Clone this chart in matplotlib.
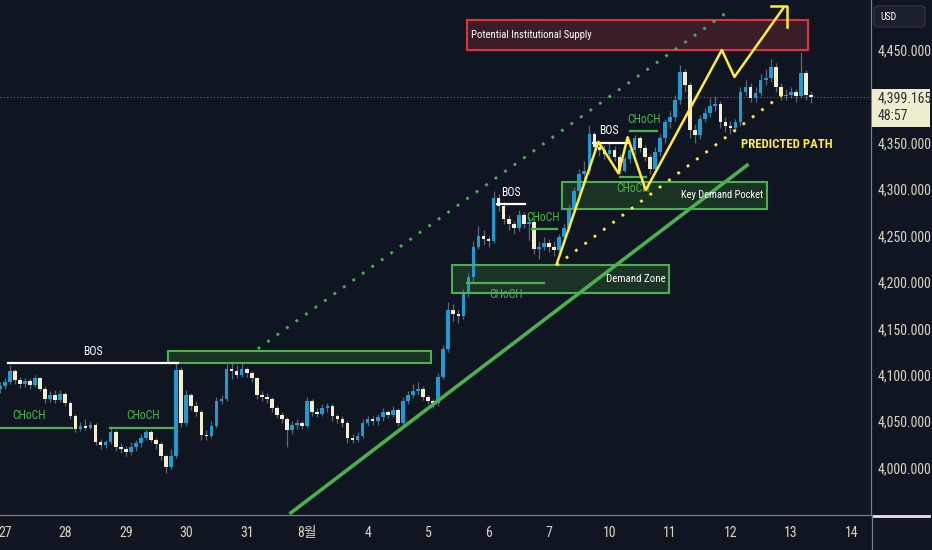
import numpy as np
import matplotlib
matplotlib.use('Agg')
import matplotlib.pyplot as plt
from matplotlib import font_manager
from matplotlib.patches import Rectangle, FancyBboxPatch
from matplotlib.lines import Line2D

# pick a narrow font if one is installed (TradingView labels are condensed)
available = {f.name for f in font_manager.fontManager.ttflist}
narrow = next((n for n in ['Roboto Condensed', 'Fira Sans Condensed',
                           'IBM Plex Sans Condensed', 'PT Sans Narrow',
                           'Archivo Narrow', 'Open Sans Condensed',
                           'Liberation Sans Narrow', 'Ubuntu Condensed',
                           'Encode Sans Condensed', 'Barlow Semi Condensed',
                           'Roboto'] if n in available), 'DejaVu Sans')
plt.rcParams['font.family'] = [narrow, 'Noto Sans CJK KR', 'DejaVu Sans']

# ---- price data (~2h candles) ----
first_open = 4085
closes = [4088, 4092, 4104, 4094, 4090, 4093, 4089, 4096, 4085, 4074,
          4078, 4073, 4079, 4070, 4056, 4042, 4045, 4043, 4046, 4028,
          4024, 4027, 4038, 4022, 4020, 4017, 4022, 4026, 4032, 4038,
          4030, 4025, 4012, 4000, 4012, 4105, 4048, 4078, 4066, 4060,
          4035, 4034, 4045, 4072, 4074, 4106, 4104, 4100, 4106, 4102,
          4096, 4078, 4076, 4074, 4064, 4057, 4052, 4040, 4046, 4048,
          4045, 4072, 4060, 4058, 4064, 4066, 4055, 4052, 4048, 4032,
          4030, 4034, 4048, 4052, 4050, 4054, 4060, 4057, 4062, 4048,
          4072, 4078, 4082, 4085, 4076, 4072, 4069, 4098, 4128, 4170,
          4165, 4163, 4188, 4205, 4238, 4250, 4246, 4244, 4290, 4282,
          4268, 4262, 4258, 4272, 4262, 4265, 4236, 4238, 4242, 4238,
          4234, 4248, 4258, 4280, 4298, 4316, 4320, 4360, 4345, 4342,
          4338, 4342, 4335, 4320, 4332, 4342, 4355, 4344, 4335, 4322,
          4340, 4355, 4372, 4378, 4396, 4426, 4412, 4364, 4358, 4376,
          4382, 4390, 4392, 4372, 4368, 4366, 4372, 4405, 4410, 4398,
          4404, 4418, 4420, 4432, 4410, 4400, 4402, 4405, 4400, 4425,
          4402, 4399]
highs = [4092, 4097, 4110, 4106, 4098, 4097, 4096, 4100, 4098, 4088,
         4082, 4084, 4083, 4081, 4072, 4058, 4049, 4052, 4050, 4048,
         4031, 4030, 4045, 4040, 4026, 4023, 4028, 4030, 4036, 4042,
         4040, 4032, 4027, 4014, 4020, 4112, 4108, 4084, 4080, 4072,
         4062, 4040, 4050, 4076, 4078, 4112, 4115, 4110, 4114, 4108,
         4104, 4098, 4082, 4080, 4076, 4066, 4060, 4054, 4050, 4052,
         4050, 4076, 4074, 4064, 4068, 4070, 4068, 4058, 4056, 4050,
         4036, 4038, 4052, 4056, 4055, 4058, 4064, 4062, 4066, 4064,
         4076, 4082, 4090, 4092, 4088, 4078, 4074, 4102, 4132, 4178,
         4176, 4170, 4192, 4210, 4244, 4260, 4256, 4250, 4298, 4295,
         4286, 4272, 4266, 4278, 4275, 4270, 4268, 4244, 4248, 4246,
         4244, 4252, 4262, 4284, 4302, 4322, 4330, 4369, 4362, 4350,
         4348, 4350, 4346, 4338, 4336, 4346, 4358, 4357, 4348, 4338,
         4345, 4360, 4376, 4384, 4402, 4434, 4430, 4415, 4370, 4380,
         4388, 4398, 4400, 4395, 4378, 4374, 4376, 4410, 4418, 4414,
         4410, 4424, 4430, 4440, 4436, 4414, 4408, 4410, 4408, 4448,
         4428, 4406]
lows = [4080, 4085, 4090, 4090, 4086, 4087, 4085, 4087, 4082, 4070,
        4071, 4070, 4071, 4066, 4052, 4038, 4039, 4040, 4041, 4024,
        4020, 4021, 4025, 4018, 4016, 4012, 4014, 4018, 4022, 4030,
        4027, 4020, 4008, 3994, 3998, 4010, 4044, 4045, 4062, 4055,
        4030, 4030, 4032, 4043, 4068, 4072, 4095, 4096, 4098, 4098,
        4092, 4074, 4072, 4070, 4060, 4053, 4048, 4022, 4036, 4042,
        4041, 4043, 4056, 4054, 4055, 4060, 4050, 4048, 4044, 4026,
        4026, 4027, 4032, 4045, 4046, 4046, 4050, 4053, 4054, 4045,
        4046, 4068, 4075, 4078, 4073, 4068, 4064, 4066, 4095, 4124,
        4158, 4156, 4160, 4184, 4200, 4235, 4240, 4238, 4242, 4276,
        4262, 4256, 4252, 4255, 4258, 4245, 4230, 4225, 4234, 4232,
        4228, 4230, 4244, 4255, 4276, 4292, 4310, 4316, 4338, 4336,
        4332, 4334, 4330, 4316, 4318, 4328, 4338, 4340, 4330, 4316,
        4318, 4336, 4350, 4366, 4374, 4392, 4405, 4355, 4350, 4354,
        4372, 4378, 4384, 4366, 4362, 4360, 4362, 4368, 4400, 4394,
        4394, 4400, 4412, 4415, 4405, 4396, 4396, 4398, 4394, 4398,
        4396, 4393]

day_labels = ['27', '28', '29', '30', '31', '8월', '4', '5', '6', '7',
              '10', '11', '12', '13', '14']
candles_per_day = 12
# 4,400 sits under the live price tag, so it is not labelled
price_ticks = [4000, 4050, 4100, 4150, 4200, 4250, 4300, 4350, 4450]
last_price = 4399.165
countdown = '48:57'

# ---- drawings (x in candle index, y in price) ----
upper_block = (33.4, 85.5, 4113, 4126)
supply_zone = (92.7, 160.3, 4450, 4482)
key_pocket = (111.5, 152.2, 4279, 4308)
demand_zone = (89.7, 132.9, 4188, 4218)

bos_levels = [(1.6, 35.4, 4113, 18.5, 4125),
              (98.6, 104.2, 4284, 101.4, 4296),
              (117.7, 124.6, 4350, 120.8, 4363)]
choch_levels = [(0, 14.3, 4043, 5.8, 4056),
                (21.9, 34.4, 4043, 28.4, 4056),
                (105.6, 110.5, 4257, 107.9, 4269),
                (92.7, 108.1, 4199, 100.4, 4187),
                (125.0, 130.4, 4363, 127.8, 4375),
                (123.0, 128.2, 4313, 125.6, 4301)]

trend_x = [57.5, 148.6]
trend_y = [3950, 4327]
channel_x = [51.2, 144.4]
channel_y = [4128, 4491]
support_x = [110.5, 155.8]
support_y = [4218, 4404]
path_x = [110.5, 118.8, 122.8, 124.6, 128.2, 143.3, 145.8, 155.6]
path_y = [4219, 4351, 4317, 4356, 4299, 4450, 4421, 4496]
arrow_x = [153.0, 156.2, 156.2]
arrow_y = [4497, 4497, 4475]

BG = '#0f1621'
BLUE = '#1f9bd3'
CREAM = '#f2eecf'
WICK = '#5f6574'
GREEN = '#4caf50'
YELLOW = '#ffeb3b'
RED = '#e0333f'
TEXT = '#d9d5bd'

fig = plt.figure(figsize=(9.32, 5.5), dpi=100, facecolor=BG)
ax = fig.add_axes([0, 1 - 515 / 550, 871 / 932, 515 / 550])
ax.set_facecolor(BG)

# candles
x = np.arange(len(closes))
opens = np.array([first_open] + closes[:-1])
c = np.array(closes)
up = c >= opens
ax.vlines(x, lows, highs, color=WICK, lw=0.9, zorder=2)
bottoms = np.minimum(opens, c)
heights = np.maximum(np.abs(c - opens), 0.8)
ax.bar(x, heights, bottom=bottoms, width=0.72, color=np.where(up, BLUE, CREAM),
       linewidth=0, zorder=3)


def zone(z, face, edge, lw=1.5):
    x0, x1, lo, hi = z
    ax.add_patch(Rectangle((x0, lo), x1 - x0, hi - lo, facecolor=face,
                           edgecolor='none', zorder=1))
    ax.add_patch(Rectangle((x0, lo), x1 - x0, hi - lo, facecolor='none',
                           edgecolor=edge, lw=lw, zorder=4))


zone(upper_block, '#1b3324', GREEN)
zone(demand_zone, '#1b3324', GREEN)
zone(key_pocket, '#1b3324', GREEN)
zone(supply_zone, '#3b1d29', RED)

ax.text(supply_zone[0] + 0.8, (supply_zone[2] + supply_zone[3]) / 2,
        'Potential Institutional Supply', color='white', fontsize=7.7,
        va='center', ha='left', zorder=6)
ax.text(key_pocket[1] - 0.8, (key_pocket[2] + key_pocket[3]) / 2,
        'Key Demand Pocket', color='white', fontsize=7.6,
        va='center', ha='right', zorder=6)
ax.text(demand_zone[1] - 0.8, (demand_zone[2] + demand_zone[3]) / 2,
        'Demand Zone', color='white', fontsize=7.8,
        va='center', ha='right', zorder=6)

for x0, x1, lvl, tx, ty in bos_levels:
    ax.plot([x0, x1], [lvl, lvl], color='white', lw=1.6, zorder=5)
    ax.text(tx, ty, 'BOS', color='white', fontsize=8.5, ha='center',
            va='center', zorder=6)
for x0, x1, lvl, tx, ty in choch_levels:
    ax.plot([x0, x1], [lvl, lvl], color=GREEN, lw=1.6, zorder=5)
    ax.text(tx, ty, 'CHoCH', color=GREEN, fontsize=8.5, ha='center',
            va='center', zorder=6)

ax.plot(trend_x, trend_y, color=GREEN, lw=2.6, zorder=5,
        solid_capstyle='butt')
ax.plot(channel_x, channel_y, color=GREEN, lw=2, ls=(0, (1, 3.2)), zorder=5)
ax.plot(support_x, support_y, color=YELLOW, lw=2, ls=(0, (1, 3.2)), zorder=5)
ax.plot(path_x, path_y, color=YELLOW, lw=1.8, zorder=6)
ax.plot(arrow_x, arrow_y, color=YELLOW, lw=1.8, zorder=6)
ax.text(156.2, 4348, 'PREDICTED PATH', color=YELLOW, fontsize=9.2,
        fontweight='bold', ha='center', va='center', zorder=6)

ax.axhline(last_price, color='#6c717c', lw=0.8, ls=(0, (1, 2)), zorder=1)

# axes
ax.set_xlim(0.04, 172.9)
ax.set_ylim(3948.8, 4503.9)
for s in ['top', 'left']:
    ax.spines[s].set_visible(False)
for s in ['bottom', 'right']:
    ax.spines[s].set_color('#7a7e88')
    ax.spines[s].set_linewidth(0.9)
ax.yaxis.tick_right()
ax.set_yticks(price_ticks)
ax.set_yticklabels([f'{v:,.3f}' for v in price_ticks])
ax.set_xticks([1 + candles_per_day * k for k in range(len(day_labels))])
ax.set_xticklabels(day_labels)
ax.tick_params(axis='y', length=0, pad=5, labelsize=10, labelcolor=TEXT)
ax.tick_params(axis='x', length=0, pad=8, labelsize=10, labelcolor=TEXT)

# price-scale decorations
fig.patches.append(Rectangle((872 / 932, 1 - 127 / 550), 58 / 932, 38 / 550,
                             transform=fig.transFigure, facecolor='#efedd0',
                             edgecolor='none'))
fig.text(878 / 932, 1 - 98.5 / 550, f'{last_price:,.3f}', color='#2a2e39',
         fontsize=10, va='center', ha='left')
fig.text(878 / 932, 1 - 116 / 550, countdown, color='#2a2e39',
         fontsize=10, va='center', ha='left')
fig.patches.append(FancyBboxPatch((874 / 932, 1 - 27 / 550), 51 / 932, 21 / 550,
                                  boxstyle='round,pad=0,rounding_size=0.005',
                                  transform=fig.transFigure,
                                  facecolor='#1b202b', edgecolor='#2c3240'))
fig.text(880 / 932, 1 - 16.5 / 550, 'USD', color='white', fontsize=7,
         va='center', ha='left')
fig.lines.append(Line2D([873 / 932, 929 / 932], [1 - 515.5 / 550] * 2,
                        transform=fig.transFigure, color='#e6e6e6', lw=2))
fig.lines.append(Line2D([871.5 / 932] * 2, [0, 1 - 515 / 550],
                        transform=fig.transFigure, color='#7a7e88', lw=0.9))

fig.savefig('out.png', dpi=100, facecolor=BG)
